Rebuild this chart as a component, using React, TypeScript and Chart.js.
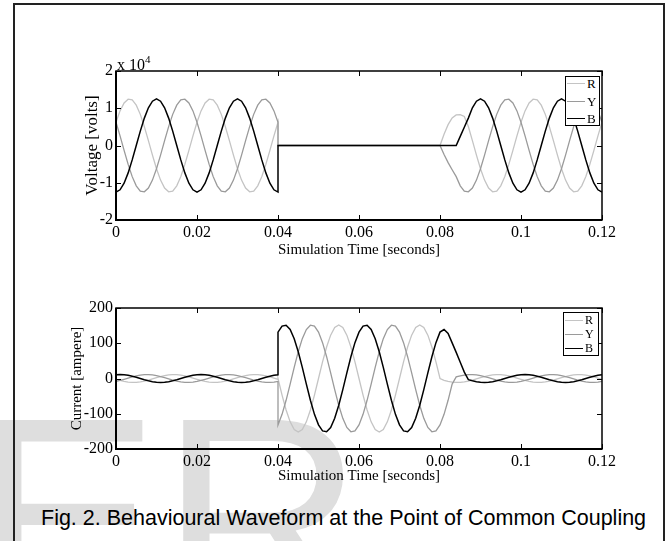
import React, { useEffect, useRef } from 'react';
import { Chart, registerables } from 'chart.js';

Chart.register(...registerables);

// ---------- data ----------
const timeSec = [
  0, 0.001, 0.002, 0.003, 0.004, 0.005, 0.006, 0.007, 0.008, 0.009,
  0.01, 0.011, 0.012, 0.013, 0.014, 0.015, 0.016, 0.017, 0.018, 0.019,
  0.02, 0.021, 0.022, 0.023, 0.024, 0.025, 0.026, 0.027, 0.028, 0.029,
  0.03, 0.031, 0.032, 0.033, 0.034, 0.035, 0.036, 0.037, 0.038, 0.039,
  0.04, 0.04,
  0.041, 0.042, 0.043, 0.044, 0.045, 0.046, 0.047, 0.048, 0.049,
  0.05, 0.051, 0.052, 0.053, 0.054, 0.055, 0.056, 0.057, 0.058, 0.059,
  0.06, 0.061, 0.062, 0.063, 0.064, 0.065, 0.066, 0.067, 0.068, 0.069,
  0.07, 0.071, 0.072, 0.073, 0.074, 0.075, 0.076, 0.077, 0.078, 0.079,
  0.08, 0.081, 0.082, 0.083, 0.084, 0.085, 0.086, 0.087, 0.088, 0.089,
  0.09, 0.091, 0.092, 0.093, 0.094, 0.095, 0.096, 0.097, 0.098, 0.099,
  0.1, 0.101, 0.102, 0.103, 0.104, 0.105, 0.106, 0.107, 0.108, 0.109,
  0.11, 0.111, 0.112, 0.113, 0.114, 0.115, 0.116, 0.117, 0.118, 0.119,
  0.12,
];

const seriesLabels = ['R', 'Y', 'B'];
const seriesColors = ['#c4c4c4', '#9a9a9a', '#000000'];

const timeTicks = [0, 0.02, 0.04, 0.06, 0.08, 0.1, 0.12];
const timeTickLabels = ['0', '0.02', '0.04', '0.06', '0.08', '0.1', '0.12'];
const voltTicks = [-20000, -10000, 0, 10000, 20000];
const voltTickLabels = ['-2', '-1', '0', '1', '2'];
const currTicks = [-200, -100, 0, 100, 200];
const currTickLabels = ['-200', '-100', '0', '100', '200'];

// Voltage [volts]
const voltR = [
  6250, 9290, 11420, 12430, 12230, 10830, 8360, 5080, 1310, -2600,
  -6250, -9290, -11420, -12430, -12230, -10830, -8360, -5080, -1310, 2600,
  6250, 9290, 11420, 12430, 12230, 10830, 8360, 5080, 1310, -2600,
  -6250, -9290, -11420, -12430, -12230, -10830, -8360, -5080, -1310, 2600,
  6250, 0,
  0, 0, 0, 0, 0, 0, 0, 0, 0, 0,
  0, 0, 0, 0, 0, 0, 0, 0, 0, 0,
  0, 0, 0, 0, 0, 0, 0, 0, 0, 0,
  0, 0, 0, 0, 0, 0, 0, 0, 0, 0,
  3000, 5600, 7400, 8200, 8300, 7800,
  5080, 1310, -2600, -6250, -9290, -11420, -12430, -12230, -10830, -8360, -5080, -1310, 2600,
  6250, 9290, 11420, 12430, 12230, 10830, 8360, 5080, 1310, -2600,
  -6250, -9290, -11420, -12430, -12230, -10830, -8360, -5080, -1310, 2600,
  6250,
];
const voltY = [
  6250, 2600, -1310, -5080, -8360, -10830, -12230, -12430, -11420, -9290,
  -6250, -2600, 1310, 5080, 8360, 10830, 12230, 12430, 11420, 9290,
  6250, 2600, -1310, -5080, -8360, -10830, -12230, -12430, -11420, -9290,
  -6250, -2600, 1310, 5080, 8360, 10830, 12230, 12430, 11420, 9290,
  6250, 0,
  0, 0, 0, 0, 0, 0, 0, 0, 0, 0,
  0, 0, 0, 0, 0, 0, 0, 0, 0, 0,
  0, 0, 0, 0, 0, 0, 0, 0, 0, 0,
  0, 0, 0, 0, 0, 0, 0, 0, 0, 0,
  -2400, -4600, -6500,
  -8360, -10830, -12230, -12430, -11420, -9290, -6250, -2600, 1310, 5080, 8360, 10830, 12230, 12430, 11420, 9290,
  6250, 2600, -1310, -5080, -8360, -10830, -12230, -12430, -11420, -9290,
  -6250, -2600, 1310, 5080, 8360, 10830, 12230, 12430, 11420, 9290,
  6250,
];
const voltB = [
  -12500, -11890, -10110, -7350, -3860, 0, 3860, 7350, 10110, 11890,
  12500, 11890, 10110, 7350, 3860, 0, -3860, -7350, -10110, -11890,
  -12500, -11890, -10110, -7350, -3860, 0, 3860, 7350, 10110, 11890,
  12500, 11890, 10110, 7350, 3860, 0, -3860, -7350, -10110, -11890,
  -12500, 0,
  0, 0, 0, 0, 0, 0, 0, 0, 0, 0,
  0, 0, 0, 0, 0, 0, 0, 0, 0, 0,
  0, 0, 0, 0, 0, 0, 0, 0, 0, 0,
  0, 0, 0, 0, 0, 0, 0, 0, 0, 0,
  0, 0, 0, 0, 2450, 4900,
  7350, 10110, 11890, 12500, 11890, 10110, 7350, 3860, 0, -3860, -7350, -10110, -11890,
  -12500, -11890, -10110, -7350, -3860, 0, 3860, 7350, 10110, 11890,
  12500, 11890, 10110, 7350, 3860, 0, -3860, -7350, -10110, -11890,
  -12500,
];

// Current [ampere]
const currR = [
  -2.3, -5.5, -8.2, -10, -10.9, -10.8, -9.5, -7.4, -4.5, -1.1,
  2.3, 5.5, 8.2, 10, 10.9, 10.8, 9.5, 7.4, 4.5, 1.1,
  -2.3, -5.5, -8.2, -10, -10.9, -10.8, -9.5, -7.4, -4.5, -1.1,
  2.3, 5.5, 8.2, 10, 10.9, 10.8, 9.5, 7.4, 4.5, 1.1,
  -2.3, 0,
  -47, -89.3, -123, -144.6, -152, -144.6, -123, -89.3, -47, 0,
  47, 89.3, 123, 144.6, 152, 144.6, 123, 89.3, 47,
  0, -47, -89.3, -123, -144.6, -152, -144.6, -123, -89.3, -47,
  0, 47, 89.3, 123, 144.6, 152, 144.6, 123, 89.3, 47,
  0,
  -5.5, -8.2, -10, -10.9, -10.8, -9.5, -7.4, -4.5, -1.1,
  2.3, 5.5, 8.2, 10, 10.9, 10.8, 9.5, 7.4, 4.5, 1.1,
  -2.3, -5.5, -8.2, -10, -10.9, -10.8, -9.5, -7.4, -4.5, -1.1,
  2.3, 5.5, 8.2, 10, 10.9, 10.8, 9.5, 7.4, 4.5, 1.1,
  -2.3,
];
const currY = [
  -8.2, -5.5, -2.3, 1.1, 4.5, 7.4, 9.5, 10.8, 10.9, 10,
  8.2, 5.5, 2.3, -1.1, -4.5, -7.4, -9.5, -10.8, -10.9, -10,
  -8.2, -5.5, -2.3, 1.1, 4.5, 7.4, 9.5, 10.8, 10.9, 10,
  8.2, 5.5, 2.3, -1.1, -4.5, -7.4, -9.5, -10.8, -10.9, -10,
  -8.2, -131.6,
  -101.7, -61.8, -15.9, 31.6, 76, 113, 138.9, 151.2, 148.7,
  131.6, 101.7, 61.8, 15.9, -31.6, -76, -113, -138.9, -151.2, -148.7,
  -131.6, -101.7, -61.8, -15.9, 31.6, 76, 113, 138.9, 151.2, 148.7,
  131.6, 101.7, 61.8, 15.9, -31.6, -76, -113, -138.9, -151.2, -148.7,
  -131.6,
  -101.7, -61.8, -15.9,
  4.5, 7.4, 9.5, 10.8, 10.9, 10,
  8.2, 5.5, 2.3, -1.1, -4.5, -7.4, -9.5, -10.8, -10.9, -10,
  -8.2, -5.5, -2.3, 1.1, 4.5, 7.4, 9.5, 10.8, 10.9, 10,
  8.2, 5.5, 2.3, -1.1, -4.5, -7.4, -9.5, -10.8, -10.9, -10,
  -8.2,
];
const currB = [
  10.5, 11, 10.5, 8.9, 6.5, 3.4, 0, -3.4, -6.5, -8.9,
  -10.5, -11, -10.5, -8.9, -6.5, -3.4, 0, 3.4, 6.5, 8.9,
  10.5, 11, 10.5, 8.9, 6.5, 3.4, 0, -3.4, -6.5, -8.9,
  -10.5, -11, -10.5, -8.9, -6.5, -3.4, 0, 3.4, 6.5, 8.9,
  10.5, 131.6,
  148.7, 151.2, 138.9, 113, 76, 31.6, -15.9, -61.8, -101.7,
  -131.6, -148.7, -151.2, -138.9, -113, -76, -31.6, 15.9, 61.8, 101.7,
  131.6, 148.7, 151.2, 138.9, 113, 76, 31.6, -15.9, -61.8, -101.7,
  -131.6, -148.7, -151.2, -138.9, -113, -76, -31.6, 15.9, 61.8, 101.7,
  131.6,
  139, 128, 101, 74, 46, 18,
  -3.4, -6.5, -8.9,
  -10.5, -11, -10.5, -8.9, -6.5, -3.4, 0, 3.4, 6.5, 8.9,
  10.5, 11, 10.5, 8.9, 6.5, 3.4, 0, -3.4, -6.5, -8.9,
  -10.5, -11, -10.5, -8.9, -6.5, -3.4, 0, 3.4, 6.5, 8.9,
  10.5,
];

// ---------- styling ----------
const SERIF = "'Liberation Serif', 'Times New Roman', serif";
const SANS = "'Liberation Sans', Arial, sans-serif";

const boxPlugin = {
  id: 'matlabBox',
  afterDraw(chart: any) {
    const { ctx, chartArea: a } = chart;
    const xs = chart.scales.x;
    const ys = chart.scales.y;
    ctx.save();
    ctx.strokeStyle = '#000';
    ctx.lineWidth = 1;
    ctx.beginPath();
    xs.ticks.forEach((t: any) => {
      const p = Math.round(xs.getPixelForValue(t.value)) + 0.5;
      ctx.moveTo(p, a.bottom);
      ctx.lineTo(p, a.bottom - 5);
      ctx.moveTo(p, a.top);
      ctx.lineTo(p, a.top + 5);
    });
    ys.ticks.forEach((t: any) => {
      const p = Math.round(ys.getPixelForValue(t.value)) + 0.5;
      ctx.moveTo(a.left, p);
      ctx.lineTo(a.left + 5, p);
      ctx.moveTo(a.right, p);
      ctx.lineTo(a.right - 5, p);
    });
    ctx.stroke();
    ctx.lineWidth = 1.5;
    ctx.strokeRect(a.left, a.top, a.right - a.left, a.bottom - a.top);
    ctx.lineWidth = 2;
    ctx.beginPath();
    ctx.moveTo(a.left, a.top);
    ctx.lineTo(a.left, a.bottom);
    ctx.lineTo(a.right, a.bottom);
    ctx.stroke();
    ctx.restore();
  },
};

type PanelSpec = {
  series: number[][];
  yMin: number;
  yMax: number;
  yTicks: number[];
  yTickLabels: string[];
  yTitle: string;
  yTitleSize: number;
  padLeft: number;
  padTop: number;
  yWidth: number;
  xHeight: number;
};

function makeChart(canvas: HTMLCanvasElement, spec: PanelSpec) {
  return new Chart(canvas, {
    type: 'line',
    data: {
      datasets: spec.series.map((vals, i) => ({
        label: seriesLabels[i],
        data: timeSec.map((t, j) => ({ x: t, y: vals[j] })),
        borderColor: seriesColors[i],
        backgroundColor: seriesColors[i],
        borderWidth: i === 2 ? 1.5 : 1.3,
        pointRadius: 0,
        tension: 0,
        fill: false,
        order: 3 - i,
      })),
    },
    options: {
      responsive: false,
      animation: false,
      devicePixelRatio: 1,
      events: [],
      layout: { padding: { left: spec.padLeft, top: spec.padTop, right: 70, bottom: 0 } },
      plugins: { legend: { display: false }, tooltip: { enabled: false } },
      scales: {
        x: {
          type: 'linear',
          min: 0,
          max: 0.12,
          afterBuildTicks: (s: any) => {
            s.ticks = timeTicks.map((v) => ({ value: v }));
          },
          afterFit: (s: any) => {
            s.height = spec.xHeight;
          },
          grid: { display: false, drawTicks: false, tickLength: 0 },
          border: { display: false },
          ticks: {
            autoSkip: false,
            maxRotation: 0,
            padding: 3,
            color: '#000',
            font: { family: SERIF, size: 16 },
            callback: (_v: any, i: number) => timeTickLabels[i],
          },
          title: {
            display: true,
            text: 'Simulation Time [seconds]',
            color: '#000',
            font: { family: SERIF, size: 15 },
            padding: { top: 0, bottom: 4 },
          },
        },
        y: {
          type: 'linear',
          min: spec.yMin,
          max: spec.yMax,
          afterBuildTicks: (s: any) => {
            s.ticks = spec.yTicks.map((v) => ({ value: v }));
          },
          afterFit: (s: any) => {
            s.width = spec.yWidth;
          },
          grid: { display: false, drawTicks: false, tickLength: 0 },
          border: { display: false },
          ticks: {
            autoSkip: false,
            padding: 3,
            color: '#000',
            font: { family: SERIF, size: 16 },
            callback: (_v: any, i: number) => spec.yTickLabels[i],
          },
          title: {
            display: true,
            text: spec.yTitle,
            color: '#000',
            font: { family: SERIF, size: spec.yTitleSize },
            padding: { top: 0, bottom: 0 },
          },
        },
      },
    } as any,
    plugins: [boxPlugin],
  });
}

function HtmlLegend(props: { left: number; top: number; width: number; height: number; rowTop: number; rowGap: number; fontSize: number }) {
  const { left, top, width, height, rowTop, rowGap, fontSize } = props;
  return (
    <div
      style={{
        position: 'absolute', left, top, width, height, boxSizing: 'border-box',
        border: '1.5px solid #000', background: '#fff',
      }}
    >
      {seriesLabels.map((lab, i) => (
        <div key={lab} style={{ position: 'absolute', left: 0, top: rowTop + i * rowGap, width: '100%', height: 0 }}>
          <div style={{ position: 'absolute', left: 1, width: 18, top: -1, borderTop: `1.5px solid ${seriesColors[i]}` }} />
          <span
            style={{
              position: 'absolute', left: 21, top: -fontSize * 0.6, fontFamily: SERIF,
              fontSize, lineHeight: `${fontSize * 1.2}px`, color: '#000',
            }}
          >
            {lab}
          </span>
        </div>
      ))}
    </div>
  );
}

export default function App() {
  const voltRef = useRef<HTMLCanvasElement>(null);
  const currRef = useRef<HTMLCanvasElement>(null);

  useEffect(() => {
    const c1 = makeChart(voltRef.current!, {
      series: [voltR, voltY, voltB],
      yMin: -20000,
      yMax: 20000,
      yTicks: voltTicks,
      yTickLabels: voltTickLabels,
      yTitle: 'Voltage [volts]',
      yTitleSize: 17,
      padLeft: 82,
      padTop: 71,
      yWidth: 34,
      xHeight: 43,
    });
    const c2 = makeChart(currRef.current!, {
      series: [currR, currY, currB],
      yMin: -200,
      yMax: 200,
      yTicks: currTicks,
      yTickLabels: currTickLabels,
      yTitle: 'Current [ampere]',
      yTitleSize: 15,
      padLeft: 68,
      padTop: 38,
      yWidth: 48,
      xHeight: 40,
    });
    return () => {
      c1.destroy();
      c2.destroy();
    };
  }, []);

  return (
    <div style={{ position: 'fixed', left: 0, top: 0, width: 672, height: 541, overflow: 'hidden', background: '#fff' }}>
      {/* watermark */}
      <div
        style={{
          position: 'absolute', left: -28, top: 376, fontFamily: SANS, fontSize: 282,
          lineHeight: 1, color: '#dedede', whiteSpace: 'nowrap',
        }}
      >
        ER
      </div>
      {/* frame */}
      <div
        style={{
          position: 'absolute', left: 13, top: 3, width: 652, height: 600,
          boxSizing: 'border-box', border: '2px solid #222',
        }}
      />
      <canvas ref={voltRef} width={672} height={263} style={{ position: 'absolute', left: 0, top: 0, width: 672, height: 263 }} />
      <canvas ref={currRef} width={672} height={219} style={{ position: 'absolute', left: 0, top: 270, width: 672, height: 219 }} />
      {/* exponent label */}
      <div style={{ position: 'absolute', left: 117, top: 57, fontFamily: SERIF, fontSize: 16, lineHeight: '16px', color: '#000', whiteSpace: 'nowrap' }}>
        x 10<span style={{ position: 'relative', top: -7, fontSize: 11 }}>4</span>
      </div>
      <HtmlLegend left={565} top={76} width={35} height={50} rowTop={7} rowGap={17.5} fontSize={13} />
      <HtmlLegend left={563} top={312} width={36} height={44} rowTop={7.5} rowGap={14} fontSize={12} />
      <div
        style={{
          position: 'absolute', left: 41, top: 506, fontFamily: SANS, fontSize: 21.5,
          lineHeight: '24px', color: '#000', whiteSpace: 'nowrap',
        }}
      >
        Fig. 2. Behavioural Waveform at the Point of Common Coupling
      </div>
    </div>
  );
}
